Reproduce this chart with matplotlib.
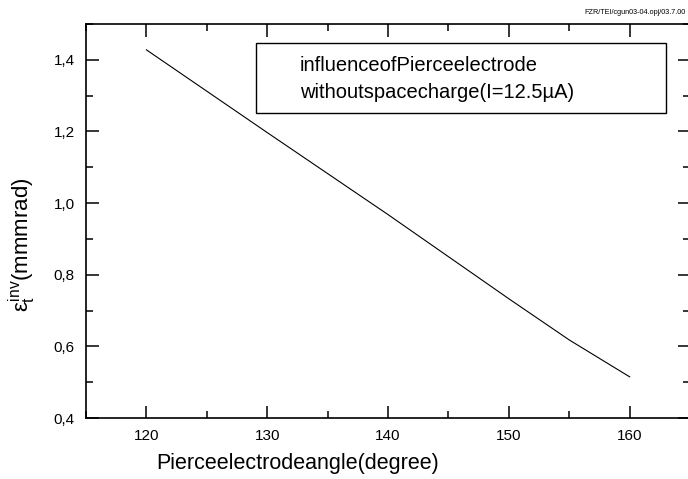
import matplotlib
matplotlib.use('Agg')
import matplotlib.pyplot as plt
from matplotlib.ticker import MultipleLocator, FuncFormatter
from matplotlib.patches import Rectangle

plt.rcParams['font.family'] = ['Liberation Sans', 'DejaVu Sans']
plt.rcParams['mathtext.fontset'] = 'custom'
plt.rcParams['mathtext.rm'] = 'Liberation Sans'
plt.rcParams['mathtext.it'] = 'Liberation Sans'

# data
angle = [120, 130, 140, 150, 155, 160]
emittance = [1.428, 1.197, 0.968, 0.733, 0.618, 0.515]

legend_lines = ['influenceofPierceelectrode', 'withoutspacecharge(I=12.5\u00b5A)']
stamp = 'FZR/TEI/cgun03-04.opj/03.7.00'

fig = plt.figure(figsize=(6.88, 4.79), dpi=100)
ax = fig.add_axes([0.125, 0.1273, 0.878, 0.8225])

ax.plot(angle, emittance, color='black', lw=0.8)

ax.set_xlim(115, 165)
ax.set_ylim(0.4, 1.5)
ax.xaxis.set_major_locator(MultipleLocator(10))
ax.xaxis.set_minor_locator(MultipleLocator(5))
ax.yaxis.set_major_locator(MultipleLocator(0.2))
ax.yaxis.set_minor_locator(MultipleLocator(0.1))
ax.yaxis.set_major_formatter(FuncFormatter(lambda v, p: ('%.1f' % v).replace('.', ',')))

ax.tick_params(which='both', direction='in', top=True, right=True, width=1.1,
               labelsize=11, pad=8)
ax.tick_params(which='major', length=9)
ax.tick_params(which='minor', length=5)
ax.set_yticks([0.4, 0.6, 0.8, 1.0, 1.2, 1.4])
for s in ax.spines.values():
    s.set_linewidth(1.2)

ax.set_xlabel('Pierceelectrodeangle(degree)', fontsize=15.5)
ax.xaxis.set_label_coords(0.351, -0.09)
ax.set_ylabel(r'$\mathit{\varepsilon}_{t}^{inv}$(mmmrad)', fontsize=16)
ax.yaxis.set_label_coords(-0.08, 0.44)

ax.add_patch(Rectangle((0.281, 0.774), 0.679, 0.178, transform=ax.transAxes,
                       fill=False, edgecolor='black', lw=1.0))
ax.text(0.354, 0.896, legend_lines[0], transform=ax.transAxes, fontsize=14.5,
        va='center', ha='left')
ax.text(0.354, 0.825, legend_lines[1], transform=ax.transAxes, fontsize=14.5,
        va='center', ha='left')

fig.text(686 / 688, 1 - 12 / 479, stamp, fontsize=5.2, va='center', ha='right')

fig.savefig('out.png', dpi=100)
